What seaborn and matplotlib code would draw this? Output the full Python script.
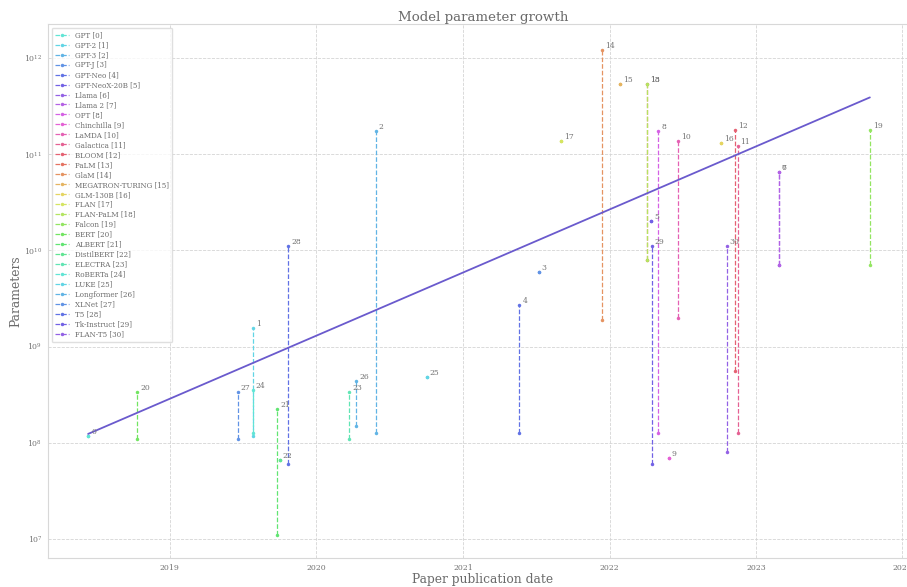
import numpy as np
import pandas as pd
import seaborn as sns
import matplotlib
matplotlib.use("Agg")
import matplotlib.pyplot as plt
import matplotlib.dates as mdates

# model names, in legend order
models = ["GPT", "GPT-2", "GPT-3", "GPT-J", "GPT-Neo", "GPT-NeoX-20B", "Llama", "Llama 2",
          "OPT", "Chinchilla", "LaMDA", "Galactica", "BLOOM", "PaLM", "GlaM",
          "MEGATRON-TURING", "GLM-130B", "FLAN", "FLAN-PaLM", "Falcon", "BERT", "ALBERT",
          "DistilBERT", "ELECTRA", "RoBERTa", "LUKE", "Longformer", "XLNet", "T5",
          "Tk-Instruct", "FLAN-T5"]

# paper dates
dates = ["2018-06-11", "2019-07-27", "2020-05-28", "2021-07-08", "2021-05-21", "2022-04-14",
         "2023-02-27", "2023-02-27", "2022-05-02", "2022-05-29", "2022-06-20", "2022-11-16",
         "2022-11-09", "2022-04-05", "2021-12-13", "2022-01-28", "2022-10-05", "2021-09-03",
         "2022-04-05", "2023-10-12", "2018-10-11", "2019-09-26", "2019-10-02", "2020-03-23",
         "2019-07-26", "2020-10-02", "2020-04-10", "2019-06-19", "2019-10-23", "2022-04-16",
         "2022-10-20"]

# smallest and largest model size per family
min_params = [1.17e8, 1.17e8, 1.25e8, 6e9, 1.25e8, 2e10, 7e9, 7e9,
              1.25e8, 7e7, 2e9, 1.25e8, 5.6e8, 8e9, 1.9e9,
              5.3e11, 1.3e11, 1.37e11, 8e9, 7e9, 1.1e8, 1.1e7,
              6.6e7, 1.1e8, 1.25e8, 4.83e8, 1.49e8, 1.1e8, 6e7,
              6e7, 8e7]
max_params = [1.17e8, 1.55e9, 1.75e11, 6e9, 2.7e9, 2e10, 6.5e10, 6.5e10,
              1.75e11, 7e7, 1.37e11, 1.2e11, 1.76e11, 5.4e11, 1.2e12,
              5.3e11, 1.3e11, 1.37e11, 5.4e11, 1.8e11, 3.4e8, 2.24e8,
              6.6e7, 3.35e8, 3.55e8, 4.83e8, 4.35e8, 3.4e8, 1.1e10,
              1.1e10, 1.1e10]

sns.set_theme(style="whitegrid", rc={
    "grid.linestyle": "--",
    "grid.color": "#d4d4d4",
    "grid.linewidth": 0.6,
    "axes.edgecolor": "#d8d8d8",
    "axes.linewidth": 0.8,
    "text.color": "0.42",
    "axes.labelcolor": "0.42",
    "xtick.color": "0.45",
    "ytick.color": "0.45",
})
plt.rcParams["font.family"] = "DejaVu Serif"
plt.rcParams["mathtext.fontset"] = "dejavuserif"

df = pd.DataFrame({"model": models, "date": pd.to_datetime(dates),
                   "lo": min_params, "hi": max_params})

# 24 hues, starting at cyan, repeating
pal = sns.hls_palette(24, h=172.5 / 360, l=0.64, s=0.72)

fig = plt.figure(figsize=(9.07, 5.87), dpi=100)
ax = fig.add_axes([48 / 907, 1 - 558 / 587, (918 - 48) / 907, (558 - 24) / 587])

for i, row in df.iterrows():
    col = pal[i % 24]
    sns.lineplot(x=[row.date, row.date], y=[row.lo, row.hi], estimator=None,
                 color=col, linestyle="--", linewidth=0.9, marker=".", markersize=5,
                 mew=0, label=f"{row.model} [{i}]", legend=False, ax=ax)
    ax.annotate(str(i), (row.date, row.hi), xytext=(2.2, 0), textcoords="offset points",
                fontsize=5.5, color="0.45", ha="left", va="bottom")

# log-linear trend of the largest models
xnum = mdates.date2num(df["date"])
slope, icpt = np.polyfit(xnum, np.log10(df["hi"]), 1)
xs = np.array([xnum.min(), xnum.max()])
ax.plot(mdates.num2date(xs), 10 ** (slope * xs + icpt), color="#6a5acd", linewidth=1.3)

ax.set_yscale("log")
ax.set_ylim(6.35e6, 2.25e12)
ax.set_xlim(pd.Timestamp("2018-03-03"), pd.Timestamp("2024-02-09"))
ax.xaxis.set_major_locator(mdates.YearLocator())
ax.xaxis.set_major_formatter(mdates.DateFormatter("%Y"))
ax.tick_params(axis="both", which="both", length=0, labelsize=5.6, pad=4)
ax.grid(True, which="major")
ax.grid(False, which="minor")

ax.set_title("Model parameter growth", fontsize=9.6, pad=2)
ax.set_xlabel("Paper publication date", fontsize=8.8, labelpad=1)
ax.set_ylabel("Parameters", fontsize=8.8, labelpad=1)

ax.legend(loc="upper left", fontsize=5.1, frameon=True, labelspacing=0.28,
          handlelength=2.0, borderpad=0.5, facecolor="white", edgecolor="#d8d8d8")

fig.savefig("out.png", dpi=100)
